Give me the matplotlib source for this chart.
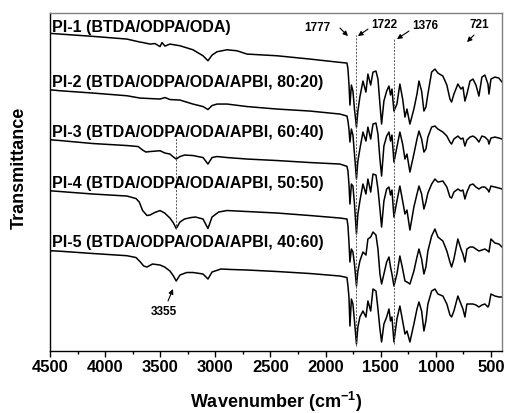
import matplotlib
matplotlib.use("Agg")
import matplotlib.pyplot as plt
import numpy as np

plt.rcParams['font.family'] = ['Liberation Sans', 'DejaVu Sans']
plt.rcParams['mathtext.fontset'] = 'custom'
plt.rcParams['mathtext.rm'] = 'Liberation Sans'
plt.rcParams['mathtext.bf'] = 'Liberation Sans:bold'

# ---------------- data (offset transmittance, arbitrary units; larger = lower on plot) --------
fp_wn = [1797, 1788, 1779, 1766, 1752, 1738, 1720, 1707, 1689, 1661, 1634, 1616, 1591, 1570,
         1543, 1525, 1507, 1492, 1471, 1446, 1425, 1411, 1398, 1380, 1353, 1326, 1301, 1280,
         1262, 1235, 1199, 1171, 1153, 1129, 1108, 1090, 1072, 1038, 1008, 981, 936, 900, 872,
         857, 836, 800, 772, 754, 736, 718, 690, 663, 636, 609, 582, 555, 527, 518, 500, 464,
         428, 400]

pi1_hi_wn = [4500, 4409, 4110, 3802, 3684, 3656, 3593, 3548, 3502, 3484, 3457, 3412, 3321, 3203,
             3112, 3067, 3030, 2985, 2894, 2804, 2713, 2441, 2142, 1870, 1806]
pi1_hi = [34.3, 35, 37.3, 40, 43, 43.5, 45, 44.5, 47.5, 43.5, 47, 45, 46.7, 50.7, 56.7, 61.7, 56,
          52.7, 50.7, 51.7, 55, 56.7, 60, 63.3, 64]
pi1_fp = [70, 85, 106, 86, 92, 110, 128, 112, 98, 82, 93, 75, 86, 73, 72, 80, 105, 125, 102, 92,
          87, 96, 90, 112, 105, 85, 100, 118, 110, 125, 110, 95, 82, 92, 112, 108, 95, 73, 70, 74,
          77, 86, 100, 103, 95, 85, 90, 88, 102, 95, 82, 80, 86, 97, 78, 76, 85, 95, 80, 78, 79, 83]

pi2_hi_wn = [4500, 4409, 4110, 3802, 3684, 3593, 3502, 3457, 3412, 3321, 3203, 3112, 3067, 3030,
             2985, 2894, 2713, 2441, 2142, 1870, 1806]
pi2_hi = [90.7, 91.7, 94, 96.7, 99, 99.5, 100, 98.5, 100.5, 101, 105, 107.5, 110.5, 106.5, 105,
          105, 107.5, 110, 112, 115, 117]
pi2_fp = [122, 130, 143, 130, 136, 155, 180, 162, 150, 133, 142, 128, 140, 125, 124, 135, 160,
          177, 147, 137, 133, 142, 136, 163, 148, 133, 145, 160, 155, 173, 155, 140, 132, 140,
          153, 150, 138, 128, 127, 130, 133, 137, 143, 145, 140, 137, 140, 139, 147, 141, 138,
          137, 139, 143, 137, 138, 141, 145, 139, 138, 139, 140]

pi3_hi_wn = [4500, 4409, 4110, 3802, 3700, 3660, 3630, 3593, 3502, 3457, 3412, 3380, 3355, 3321,
             3280, 3203, 3112, 3067, 3030, 2985, 2894, 2713, 2441, 2142, 1870, 1806]
pi3_hi = [140.7, 141.5, 144.5, 146.5, 147.5, 151, 153, 152.5, 151.7, 154, 155, 158, 160, 157.5,
          156, 156.5, 158.5, 165, 158.5, 157.5, 158.5, 160, 161.5, 163.5, 165, 167.3]
pi3_fp = [172, 185, 205, 185, 187, 205, 235, 215, 202, 185, 195, 180, 193, 175, 176, 190, 210,
          228, 202, 190, 188, 196, 191, 218, 202, 187, 202, 215, 211, 231, 208, 195, 187, 195,
          210, 203, 194, 185, 180, 183, 182, 188, 198, 199, 193, 190, 192, 191, 200, 193, 186,
          185, 188, 190, 188, 188, 191, 193, 187, 188, 189, 190]

pi4_hi_wn = [4500, 4409, 4110, 3802, 3720, 3690, 3660, 3620, 3593, 3550, 3502, 3460, 3412, 3380,
             3355, 3321, 3280, 3220, 3180, 3112, 3067, 3030, 2970, 2894, 2713, 2441, 2142, 1870,
             1806]
pi4_hi = [191.7, 192.5, 195, 197, 199.5, 203, 211.5, 216.5, 216, 213.5, 211.5, 214, 219, 224,
          229.5, 223, 220, 218.5, 218, 220, 229.5, 218, 213, 211.5, 212.5, 214, 216.5, 219, 220]
pi4_fp = [227, 243, 263, 250, 253, 265, 287, 272, 262, 253, 256, 240, 238, 233, 236, 250, 275,
          285, 275, 263, 258, 268, 275, 287, 275, 257, 270, 282, 283, 285, 272, 258, 250, 260,
          275, 268, 252, 237, 230, 238, 242, 252, 263, 268, 260, 240, 250, 255, 263, 250, 248,
          248, 250, 252, 251, 250, 252, 253, 240, 244, 245, 248]

pi5_hi_wn = [4500, 4409, 4110, 3802, 3720, 3680, 3650, 3620, 3570, 3502, 3460, 3412, 3380, 3355,
             3321, 3260, 3200, 3112, 3067, 3030, 2950, 2850, 2713, 2441, 2142, 1870, 1806]
pi5_hi = [251.7, 252.2, 254.5, 256.7, 258.5, 263, 267, 268, 265, 266, 268, 272, 277, 282, 276,
          273.5, 273.5, 275, 280, 273, 270, 270.5, 271, 272.5, 274.5, 277, 278.5]
pi5_fp = [287, 298, 327, 300, 305, 322, 345, 328, 318, 312, 318, 302, 312, 290, 292, 310, 330,
          343, 325, 318, 310, 322, 318, 343, 320, 307, 322, 335, 332, 343, 325, 310, 303, 312,
          332, 322, 305, 292, 290, 295, 297, 305, 316, 318, 312, 297, 305, 310, 318, 305, 305,
          305, 306, 308, 306, 305, 308, 306, 295, 297, 298, 298]

labels = ["PI-1 (BTDA/ODPA/ODA)",
          "PI-2 (BTDA/ODPA/ODA/APBI, 80:20)",
          "PI-3 (BTDA/ODPA/ODA/APBI, 60:40)",
          "PI-4 (BTDA/ODPA/ODA/APBI, 50:50)",
          "PI-5 (BTDA/ODPA/ODA/APBI, 40:60)"]
label_y = [0.9615, 0.7986, 0.6506, 0.4996, 0.3249]

peak_lines = [1722, 1376]
nh_peak = 3355
xticks = [4500, 4000, 3500, 3000, 2500, 2000, 1500, 1000, 500]

series = [(pi1_hi_wn, pi1_hi, pi1_fp), (pi2_hi_wn, pi2_hi, pi2_fp), (pi3_hi_wn, pi3_hi, pi3_fp),
          (pi4_hi_wn, pi4_hi, pi4_fp), (pi5_hi_wn, pi5_hi, pi5_fp)]

# ---------------- figure ----------------
fig = plt.figure(figsize=(5.05, 4.14), dpi=100)
ax = fig.add_axes([0.099, 0.1505, 0.895, 0.8155])

for hw, hv, fv in series:
    wn = list(hw) + list(fp_wn)
    val = list(hv) + list(fv)
    ax.plot(wn, val, color='black', lw=1.1)

ax.set_xlim(4500, 400)
ax.set_ylim(351.7, 14)

# dotted reference lines
ax.axvline(peak_lines[0], ymin=0.0139, ymax=0.9349, color='#555555', lw=0.7, ls=(0, (2, 1.5)))
ax.axvline(peak_lines[1], ymin=0.0199, ymax=0.9230, color='#555555', lw=0.7, ls=(0, (2, 1.5)))
ax.axvline(nh_peak, ymin=0.3604, ymax=0.6328, color='#555555', lw=0.7, ls=(0, (2, 1.5)))

for lab, yy in zip(labels, label_y):
    ax.text(0.0044, yy, lab, transform=ax.transAxes, fontsize=11.5, fontweight='bold',
            ha='left', va='center')

# annotations
ann = [("1777", (0.5907, 0.9585), (0.6416, 0.9556), (0.6593, 0.9319)),
       ("1722", (0.7389, 0.9674), (0.7035, 0.9526), (0.6814, 0.9319)),
       ("1376", (0.8296, 0.9645), (0.7942, 0.9467), (0.7677, 0.9230)),
       ("721", (0.9491, 0.9674), (0.9381, 0.9349), (0.9226, 0.9141)),
       ("3355", (0.2522, 0.1176), (0.2611, 0.1472), (0.2721, 0.1827))]
for txt, tpos, tail, head in ann:
    ax.text(tpos[0], tpos[1], txt, transform=ax.transAxes, fontsize=8.5, fontweight='bold',
            ha='center', va='center')
    ax.annotate('', xy=head, xytext=tail, xycoords='axes fraction', textcoords='axes fraction',
                arrowprops=dict(arrowstyle='-|>', color='black', lw=0.8, mutation_scale=7,
                                shrinkA=0, shrinkB=0))

ax.set_xticks(xticks)
ax.set_xticks(np.arange(4250, 400, -500), minor=True)
ax.set_yticks([])
ax.tick_params(axis='x', which='major', direction='out', length=4, width=1, pad=2,
               labelsize=12)
ax.tick_params(axis='x', which='minor', direction='out', length=2.5, width=1)
for lbl in ax.get_xticklabels():
    lbl.set_fontweight('bold')

for s in ['left', 'bottom']:
    ax.spines[s].set_color('black')
    ax.spines[s].set_linewidth(1.0)
for s in ['top', 'right']:
    ax.spines[s].set_color('#808080')
    ax.spines[s].set_linewidth(1.0)

ax.set_xlabel(r'Wavenumber (cm$^{\mathbf{-1}}$)', fontsize=13, fontweight='bold')
ax.xaxis.set_label_coords(0.5, -0.150)
ax.xaxis.label.set_va('center')
ax.set_ylabel('Transmittance', fontsize=13, fontweight='bold')
ax.yaxis.set_label_coords(-0.0686, 0.544)
ax.yaxis.label.set_va('center')

fig.savefig('out.png', dpi=100)
